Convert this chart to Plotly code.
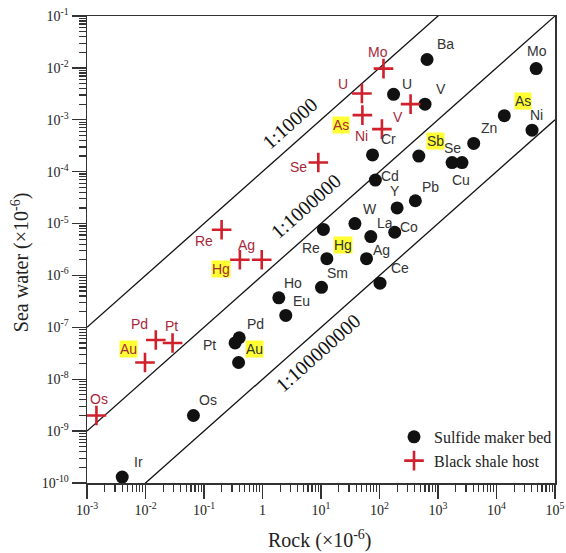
import numpy as np
import plotly.graph_objects as go

# ---------------- data ----------------
sulfide_elements = ["Ba", "Mo", "U", "V", "As", "Ni", "Zn", "Cr", "Sb", "Se", "Cu", "Cd", "Y", "Pb",
                    "W", "La", "Co", "Re", "Hg", "Sm", "Ag", "Ce", "Ho", "Eu", "Pd", "Pt", "Au", "Os", "Ir"]
sulfide_rock = [650, 47600, 174, 600, 13600, 40500, 4080, 76, 470, 1740, 2570, 85, 200, 410,
                38, 71, 182, 11, 12.6, 10.2, 60, 102, 1.9, 2.5, 0.40, 0.34, 0.39, 0.066, 0.004]
sulfide_sea = [0.0145, 0.0097, 0.0031, 0.002, 0.0012, 0.00063, 0.00035, 0.00021, 0.0002, 1.5e-4,
               1.5e-4, 6.9e-5, 2.0e-5, 2.75e-5, 1.0e-5, 5.6e-6, 6.8e-6, 7.7e-6, 2.1e-6, 5.9e-7,
               2.1e-6, 7.1e-7, 3.7e-7, 1.7e-7, 6.3e-8, 5.0e-8, 2.1e-8, 2.0e-9, 1.3e-10]

shale_elements = ["Mo", "U", "As", "Ni", "V", "Se", "Re", "Hg", "Ag", "Pd", "Pt", "Au", "Os"]
shale_rock = [117, 50, 51, 110, 340, 9.0, 0.2, 0.41, 0.97, 0.015, 0.029, 0.0098, 0.00145]
shale_sea = [0.0097, 0.0032, 0.00123, 0.00066, 0.002, 1.5e-4, 7.6e-6, 2.0e-6, 2.0e-6,
             5.7e-8, 5.0e-8, 2.1e-8, 2.0e-9]

highlighted = ["As", "Sb", "Hg", "Au"]

ratio_values = [1e-4, 1e-6, 1e-8]
ratio_labels = ["1:10000", "1:1000000", "1:100000000"]
rock_range = [1e-3, 1e5]

x_tick_exps = [-3, -2, -1, 0, 1, 2, 3, 4, 5]
y_tick_exps = [-10, -9, -8, -7, -6, -5, -4, -3, -2, -1]
x_tick_text = ["10<sup>-3</sup>", "10<sup>-2</sup>", "10<sup>-1</sup>", "1", "10<sup>1</sup>",
               "10<sup>2</sup>", "10<sup>3</sup>", "10<sup>4</sup>", "10<sup>5</sup>"]
y_tick_text = ["10<sup>%d</sup>" % e for e in y_tick_exps]

# ---------------- style / layout settings ----------------
SERIF = "Times New Roman, Liberation Serif, serif"
SANS = "Arial, Liberation Sans, sans-serif"
DOT_LABEL_COLOR = "#333333"
SHALE_LABEL_COLOR = "#a8283a"
SHALE_COLOR = "#d0202c"
HILITE = "#ffff33"

# label offsets in pixels (dx right, dy up)
sulfide_offsets = {
    "Ba": (18, 16), "Mo": (1, 18), "U": (13, 10), "V": (16, 15), "As": (19, 15), "Ni": (4, 15),
    "Zn": (15, 15), "Cr": (16, 16), "Sb": (17, 15), "Se": (0, 15), "Cu": (-1, -17), "Cd": (15, 4),
    "Y": (-2, 17), "Pb": (15, 14), "W": (15, 15), "La": (14, 14), "Co": (14, 5), "Re": (-12, -19),
    "Hg": (16, 14), "Sm": (16, 14), "Ag": (15, 9), "Ce": (20, 15), "Ho": (14, 15), "Eu": (16, 14),
    "Pd": (16, 14), "Pt": (-26, -2), "Au": (16, 14), "Os": (15, 15), "Ir": (16, 15),
}
shale_offsets = {
    "Mo": (-5, 17), "U": (-19, 10), "As": (-21, -10), "Ni": (-20, -7), "V": (-13, -13),
    "Se": (-20, -4), "Re": (-18, -11), "Hg": (-19, -9), "Ag": (-15, 15), "Pd": (-16, 16),
    "Pt": (-1, 17), "Au": (-16, 14), "Os": (3, 16),
}
# ratio-line label centres (log10 x, log10 y)
ratio_label_pos = [(0.471, -3.063), (0.745, -4.66), (0.942, -7.49)]

fig = go.Figure()

for r in ratio_values:
    fig.add_trace(go.Scatter(
        x=rock_range, y=[r * v for v in rock_range], mode="lines",
        line=dict(color="#111111", width=1.3), showlegend=False, hoverinfo="skip"))

fig.add_trace(go.Scatter(
    x=sulfide_rock, y=sulfide_sea, mode="markers", name="Sulfide maker bed",
    marker=dict(symbol="circle", size=13, color="#111111"), cliponaxis=False))
fig.add_trace(go.Scatter(
    x=shale_rock, y=shale_sea, mode="markers", name="Black shale host",
    marker=dict(symbol="cross-thin", size=14, color=SHALE_COLOR,
                line=dict(color=SHALE_COLOR, width=2.6)), cliponaxis=False))

annotations = []
for name, xv, yv in zip(sulfide_elements, sulfide_rock, sulfide_sea):
    dx, dy = sulfide_offsets[name]
    annotations.append(dict(
        x=np.log10(xv), y=np.log10(yv), xref="x", yref="y", text=name, showarrow=False,
        xshift=dx, yshift=dy, font=dict(family=SANS, size=14, color=DOT_LABEL_COLOR),
        bgcolor=HILITE if name in highlighted else "rgba(0,0,0,0)", borderpad=0))
for name, xv, yv in zip(shale_elements, shale_rock, shale_sea):
    dx, dy = shale_offsets[name]
    annotations.append(dict(
        x=np.log10(xv), y=np.log10(yv), xref="x", yref="y", text=name, showarrow=False,
        xshift=dx, yshift=dy, font=dict(family=SANS, size=14, color=SHALE_LABEL_COLOR),
        bgcolor=HILITE if name in highlighted else "rgba(0,0,0,0)", borderpad=0))

angle = -np.degrees(np.arctan(52.0 / 58.4))
for lab, (lx, ly) in zip(ratio_labels, ratio_label_pos):
    annotations.append(dict(
        x=lx, y=ly, xref="x", yref="y", text=lab, showarrow=False, textangle=angle,
        font=dict(family=SERIF, size=20, color="#111111")))

annotations.append(dict(
    x=0.498, y=-0.122, xref="paper", yref="paper", text="Rock (×10<sup>-6</sup>)",
    showarrow=False, font=dict(family=SERIF, size=20, color="#222222"),
    xanchor="center", yanchor="middle"))
annotations.append(dict(
    x=-0.143, y=0.473, xref="paper", yref="paper", text="Sea water (×10<sup>-6</sup>)",
    showarrow=False, textangle=-90, font=dict(family=SERIF, size=20, color="#222222"),
    xanchor="center", yanchor="middle"))

x_minor = [m * 10.0 ** e for e in range(-3, 5) for m in range(2, 10)]
y_minor = [m * 10.0 ** e for e in range(-10, -1) for m in range(2, 10)]

axis_common = dict(
    type="log", showgrid=False, zeroline=False, showline=True, mirror=True, automargin=False,
    linecolor="#333333", linewidth=1.5, ticks="outside", ticklen=14, tickwidth=1.3,
    tickcolor="#333333", tickfont=dict(family=SERIF, size=14, color="#222222"),
    tickmode="array", ticklabeloverflow="allow")

fig.update_layout(
    width=566, height=553,
    margin=dict(l=87, r=11, t=16, b=70, autoexpand=False),
    paper_bgcolor="white", plot_bgcolor="white",
    hovermode=False,
    xaxis=dict(range=[-3, 5], tickvals=[10.0 ** e for e in x_tick_exps], ticktext=x_tick_text,
               minor=dict(tickmode="array", tickvals=x_minor, ticks="outside", ticklen=7,
                          tickwidth=1.2, tickcolor="#333333", showgrid=False),
               **axis_common),
    yaxis=dict(range=[-10, -1], tickvals=[10.0 ** e for e in y_tick_exps], ticktext=y_tick_text,
               minor=dict(tickmode="array", tickvals=y_minor, ticks="outside", ticklen=7,
                          tickwidth=1.2, tickcolor="#333333", showgrid=False),
               **axis_common),
    legend=dict(x=0.656, y=0.135, xanchor="left", yanchor="top",
                font=dict(family=SERIF, size=16, color="#222222"),
                bgcolor="rgba(0,0,0,0)", tracegroupgap=0, itemwidth=30),
    annotations=annotations,
    showlegend=True,
)

# remove the browser's default 8px page margin so the 566x553 figure fills the window
fig.write_html("out.html",
               config={"displayModeBar": False, "staticPlot": True},
               post_script="document.body.style.margin='0';document.body.style.overflow='hidden';")
